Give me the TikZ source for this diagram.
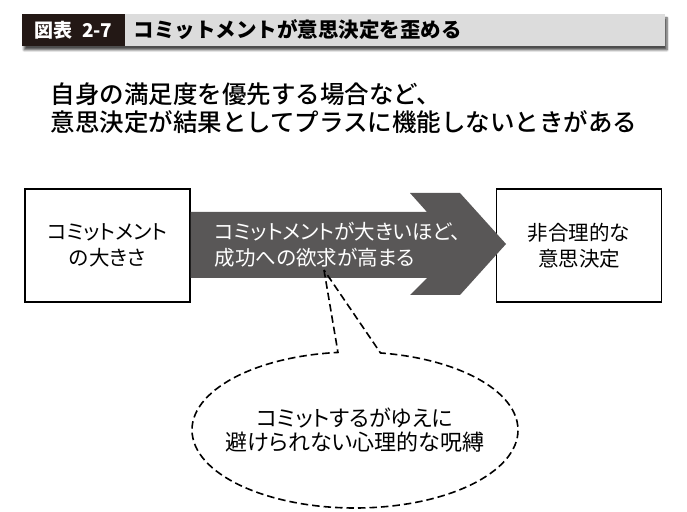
\documentclass[tikz,border=0pt]{standalone}
\usepackage{fontspec}
\setmainfont{Noto Sans CJK JP}[RawFeature=+palt]
\newfontfamily\plainjp{Noto Sans CJK JP}
\newfontfamily\leadfont{Noto Sans CJK JP Medium}
\usetikzlibrary{shadows.blur}
\definecolor{tagink}{HTML}{231815}
\definecolor{bargray}{HTML}{DCDCDC}
\definecolor{arrowgray}{HTML}{595757}
\begin{document}
\begin{tikzpicture}[x=1pt,y=1pt]
    \tikzstyle{block}=[draw=black,line width=1.4pt,minimum width=165pt,minimum height=113pt,inner sep=0pt,align=center,font=\fontsize{20.5}{26}\selectfont]
    \tikzstyle{dashline}=[draw=black,line width=1.6pt,dash pattern=on 7.5pt off 4pt]
    \useasboundingbox (0,0) rectangle (687,511);

    % header bar
    \node[fill=bargray,minimum width=643pt,minimum height=32pt,inner sep=0pt,
      blur shadow={shadow xshift=2pt,shadow yshift=-4pt,shadow blur steps=6,shadow opacity=70}] (bar) at (343.5,481) {};
    \node[fill=tagink,minimum width=103pt,minimum height=32pt,inner sep=0pt,text=white,
      font=\plainjp\bfseries\fontsize{19}{19}\selectfont] (tag) at (73.5,481) {図表\hspace{0.5em}2-7};
    \node[anchor=west,font=\plainjp\bfseries\fontsize{20.5}{20.5}\selectfont] (caption) at (130,481) {コミットメントが意思決定を歪める};

    % lead text
    \node[anchor=west,align=left,font=\leadfont\fontsize{24.5}{28}\selectfont] (lead) at (47,403)
      {自身の満足度を優先する場合など、\\意思決定が結果としてプラスに機能しないときがある};

    % boxes
    \node[block] (size) at (107.5,265.5) {コミットメント\\の大きさ};
    \node[block] (decision) at (579,265.5) {非合理的な\\意思決定};

    % big arrow between the boxes
    \fill[arrowgray] (size.east |- 0,299) -- (427,299) -- (410,318) -- (460,318) -- (506,267)
      -- (460,216) -- (410,216) -- (427,233) -- (size.east |- 0,233) -- cycle;
    \node[anchor=west,align=left,text=white,font=\fontsize{20.5}{26}\selectfont] (desire) at (211,266)
      {コミットメントが大きいほど、\\成功への欲求が高まる};

    % callout
    \node[minimum width=326pt,minimum height=156pt,inner sep=0pt,align=center,
      font=\fontsize{22}{24}\selectfont] (bind) at (355,81) {コミットするがゆえに\\避けられない心理的な呪縛};
    \coordinate (tip) at (324,241);
    \draw[dashline] (tip) -- ([shift={(96:163 and 78)}]bind.center)
      arc[start angle=96,end angle=441,x radius=163,y radius=78] -- cycle;
\end{tikzpicture}
\end{document}
